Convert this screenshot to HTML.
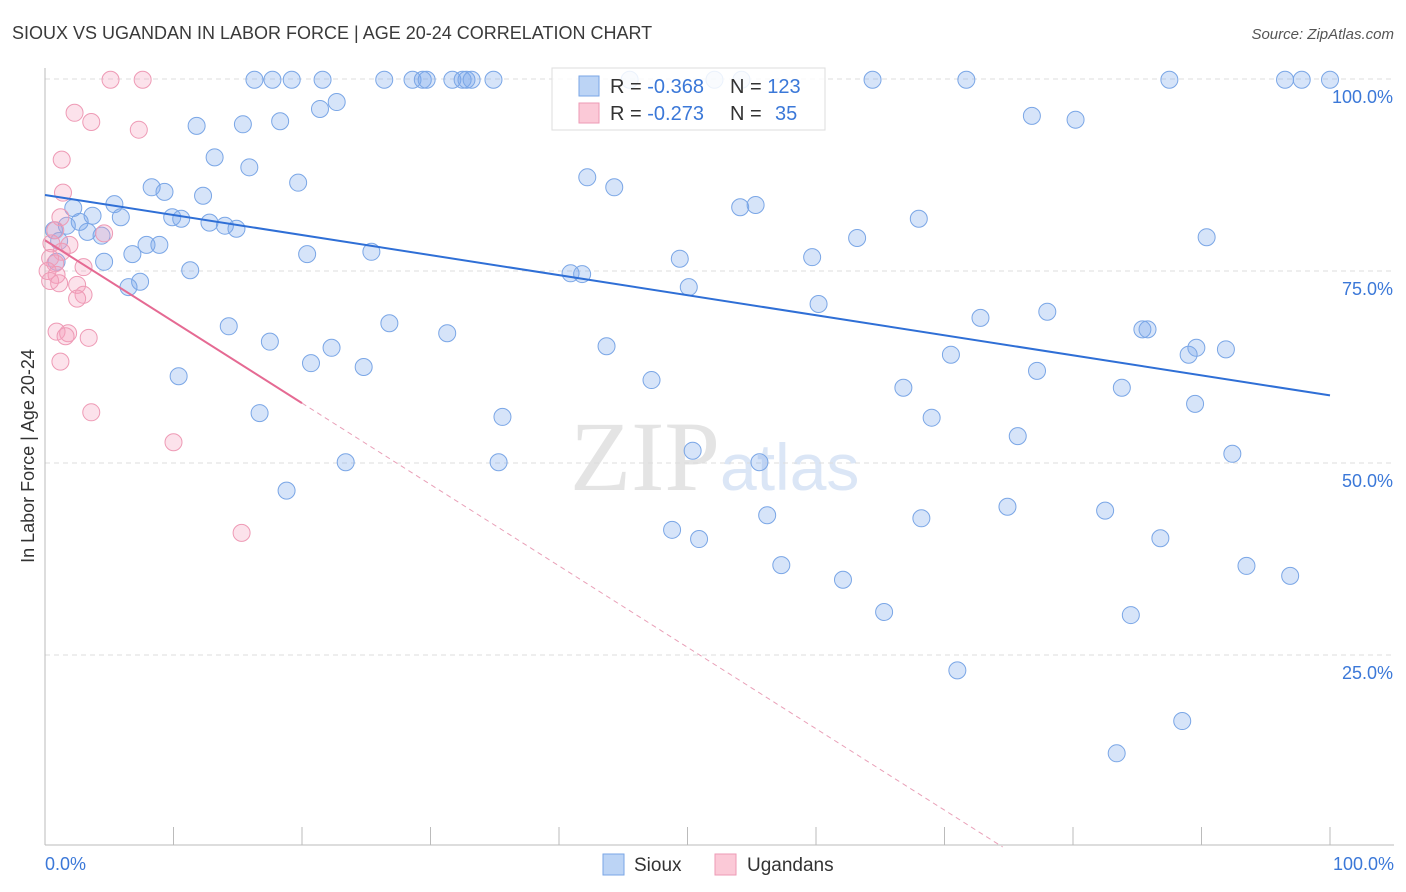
<!DOCTYPE html>
<html><head><meta charset="utf-8"><style>
body{margin:0;background:#fff;font-family:"Liberation Sans",sans-serif;}
svg{display:block}
</style></head><body>
<svg id="c" width="1406" height="892">
<text x="12" y="39" font-size="18" fill="#3a3a3a">SIOUX VS UGANDAN IN LABOR FORCE | AGE 20-24 CORRELATION CHART</text>
<text x="1394" y="39" font-size="15" fill="#555" font-style="italic" text-anchor="end">Source: ZipAtlas.com</text>
<text x="720" y="490" font-size="100" fill="#e4e4e4" text-anchor="end" font-family="Liberation Serif">ZIP</text>
<text x="720" y="490" font-size="66" fill="#dbe6f6">atlas</text>
<text transform="translate(34,456) rotate(-90)" font-size="18" fill="#333" text-anchor="middle">In Labor Force | Age 20-24</text>
<g id="grid"></g><g id="pts"></g><g id="lines"></g>
<g>
<rect x="552" y="68" width="273" height="62" fill="#fff" fill-opacity="0.85" stroke="#ddd"/>
<rect x="579" y="76" width="20" height="20" fill="#bcd4f5" stroke="#7aa6e6"/>
<rect x="579" y="103" width="20" height="20" fill="#fbc9d7" stroke="#ee9ab5"/>
<text font-size="20" fill="#333"><tspan x="610" y="93">R = </tspan><tspan fill="#3b78d8">-0.368</tspan><tspan x="730">N = </tspan><tspan fill="#3b78d8">123</tspan></text>
<text font-size="20" fill="#333"><tspan x="610" y="120">R = </tspan><tspan fill="#3b78d8">-0.273</tspan><tspan x="730">N = </tspan><tspan fill="#3b78d8" x="775">35</tspan></text>
</g>
<g>
<rect x="603" y="854" width="21" height="21" fill="#bcd4f5" stroke="#7aa6e6"/>
<text x="634" y="871" font-size="19" fill="#333">Sioux</text>
<rect x="715" y="854" width="21" height="21" fill="#fbc9d7" stroke="#ee9ab5"/>
<text x="747" y="871" font-size="19" fill="#333">Ugandans</text>
</g>
</svg>
<script>
const xTicks=[0,10,20,30,40,50,60,70,80,90,100];
const yTicks=[25,50,75,100];
const blueX=[16.3,17.7,19.2,21.6,26.4,28.6,29.4,29.7,31.7,32.5,32.8,33.2,34.9,45.5,52.1,54.2,64.4,71.7,87.5,96.5,97.8,100,22.7,21.4,18.3,11.8,15.4,13.2,15.9,19.7,8.3,9.3,12.3,5.4,2.2,3.7,5.9,9.9,10.6,12.8,14.0,14.9,2.7,1.7,0.7,3.3,4.4,1.1,7.9,8.9,6.8,0.9,4.6,11.3,7.4,6.5,20.4,25.4,42.2,44.3,54.1,55.3,68.0,63.2,90.4,49.4,59.7,40.9,41.8,50.1,60.2,78.0,72.8,85.4,85.8,89.6,14.3,26.8,31.3,17.5,22.3,43.7,91.9,70.5,89.0,77.2,20.7,24.8,10.4,47.2,66.8,83.8,89.5,16.7,35.6,69.0,75.7,50.4,92.4,23.4,35.3,55.6,18.8,74.9,82.5,56.2,68.2,48.8,50.9,86.8,57.3,93.5,96.9,62.1,65.3,84.5,71.0,88.5,83.4,80.2,76.8];
const blueY=[99.9,99.9,99.9,99.9,99.9,99.9,99.9,99.9,99.9,99.9,99.9,99.9,99.9,99.9,99.9,99.9,99.9,99.9,99.9,99.9,99.9,99.9,97.0,96.1,94.5,93.9,94.1,89.8,88.5,86.5,85.9,85.3,84.8,83.7,83.2,82.2,82.0,82.0,81.8,81.3,80.9,80.5,81.4,80.9,80.3,80.1,79.6,78.9,78.4,78.4,77.2,76.2,76.2,75.1,73.6,72.9,77.2,77.5,87.2,85.9,83.3,83.6,81.8,79.3,79.4,76.6,76.8,74.7,74.6,72.9,70.7,69.7,68.9,67.4,67.4,65.0,67.8,68.2,66.9,65.8,65.0,65.2,64.8,64.1,64.1,62.0,63.0,62.5,61.3,60.8,59.8,59.8,57.7,56.5,56.0,55.9,53.5,51.6,51.2,50.1,50.1,50.1,46.4,44.3,43.8,43.2,42.8,41.3,40.1,40.2,36.7,36.6,35.3,34.8,30.6,30.2,23.0,16.4,12.2,94.7,95.2];
const pinkX=[5.1,7.6,2.3,3.6,7.3,1.3,1.4,1.2,0.8,4.6,1.9,0.5,1.3,0.4,0.8,3.0,0.2,0.9,0.4,1.1,2.5,3.0,2.5,0.9,1.8,1.6,3.4,1.2,3.6,10.0,15.3];
const pinkY=[99.9,99.9,95.6,94.4,93.4,89.5,85.2,82.0,80.3,79.9,78.4,78.6,77.5,76.7,76.0,75.5,75.0,74.5,73.7,73.4,73.2,71.9,71.4,67.1,66.9,66.5,66.3,63.2,56.6,52.7,40.9];
const blueTrend=[84.9,58.8];
const pinkTrend=[79.0,-27.0];
const pinkSolidEnd=20;
const NS='http://www.w3.org/2000/svg';
const X=v=>45+v*12.85, Y=v=>847-v*7.68;
function mk(tag,a,parent){const e=document.createElementNS(NS,tag);for(const k in a)e.setAttribute(k,a[k]);document.getElementById(parent).appendChild(e);return e;}
yTicks.forEach(t=>{
 const l=mk('line',{x1:45,x2:1394,y1:Y(t),y2:Y(t),stroke:'#ddd','stroke-dasharray':'5,4'},'grid');
 
 
 const tx=mk('text',{x:1393,y:Y(t)+24,'font-size':18,fill:'#3b78d8','text-anchor':'end'},'grid');tx.textContent=t.toFixed(1)+'%';
 
 
});
const ax=mk('line',{x1:45,x2:1394,y1:845,y2:845,stroke:'#bbb'},'grid');


const ay=mk('line',{x1:45,x2:45,y1:68,y2:845,stroke:'#bbb'},'grid');


xTicks.forEach(t=>{const l=mk('line',{x1:X(t),x2:X(t),y1:827,y2:845,stroke:'#bbb'},'grid');
 
 });
[[0,'0.0%','start',45],[100,'100.0%','end',1394]].forEach(d=>{const tx=mk('text',{x:d[3],y:870,'font-size':18,fill:'#3b78d8','text-anchor':d[2]},'grid');tx.textContent=d[1];
 
 });
blueX.forEach((v,i)=>{const c=mk('circle',{cx:X(v),cy:Y(blueY[i]),r:8.5,fill:'rgba(120,165,235,0.3)',stroke:'#7aa6e6','stroke-width':1},'pts');
 
 });
pinkX.forEach((v,i)=>{const c=mk('circle',{cx:X(v),cy:Y(pinkY[i]),r:8.5,fill:'rgba(245,160,190,0.3)',stroke:'#ee9ab5','stroke-width':1},'pts');
 
 });
const bl=mk('line',{x1:X(0),y1:Y(blueTrend[0]),x2:X(100),y2:Y(blueTrend[1]),stroke:'#2f6fd6','stroke-width':2},'lines');


const pe=v=>pinkTrend[0]+(pinkTrend[1]-pinkTrend[0])*v/100;
const pxEnd=100*pinkTrend[0]/(pinkTrend[0]-pinkTrend[1]);
const pd=mk('line',{x1:X(pinkSolidEnd),y1:Y(pe(pinkSolidEnd)),x2:X(pxEnd),y2:Y(0),stroke:'#e9a0b8','stroke-width':1,'stroke-dasharray':'5,4'},'lines');


const ps=mk('line',{x1:X(0),y1:Y(pe(0)),x2:X(pinkSolidEnd),y2:Y(pe(pinkSolidEnd)),stroke:'#e56a93','stroke-width':2},'lines');


</script>
</body></html>
